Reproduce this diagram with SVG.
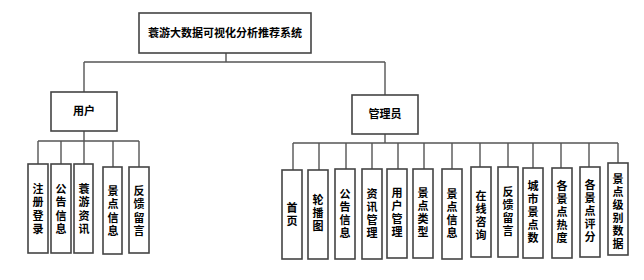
<svg xmlns="http://www.w3.org/2000/svg" width="644" height="280" viewBox="0 0 644 280">
<style>
.box{fill:#fff;stroke:#444;stroke-width:1.6}
.ln{fill:none;stroke:#555;stroke-width:1.4}
.t{font-family:"Noto Sans CJK SC","Noto Sans",sans-serif;font-size:11px;font-weight:bold;fill:#000;text-anchor:middle}
</style>
<rect width="644" height="280" fill="#fff"/>
<g id="connectors" class="ln">
<path d="M226 53V62M84 62H385M84 62V92M385 62V95"/>
<path d="M84 131V141M38 141H139M38 141V164M61 141V164M84 141V164M113 141V167M139 141V167"/>
<path d="M385 134V143M293 143H618M293 143V170M319 143V170M346 143V169M372 143V169M398 143V169M424 143V169M452 143V169M480 143V167M508 143V167M533 143V168M561 143V168M589 143V167M618 143V163"/>
</g>
<g id="root"><rect class="box" x="139" y="13" width="172" height="40"/><text class="t" x="225" y="37">蓑游大数据可视化分析推荐系统</text></g>
<g id="user"><rect class="box" x="51" y="92" width="66" height="39"/><text class="t" x="84" y="115">用户</text></g>
<g id="admin"><rect class="box" x="352" y="95" width="66" height="39"/><text class="t" x="385" y="118">管理员</text></g>
<g id="u1"><rect class="box" x="28" y="164" width="20" height="89"/><text class="t" x="38" y="193"><tspan x="38">注</tspan><tspan x="38" dy="13.3">册</tspan><tspan x="38" dy="13.3">登</tspan><tspan x="38" dy="13.3">录</tspan></text></g>
<g id="u2"><rect class="box" x="51" y="164" width="20" height="89"/><text class="t" x="61" y="193"><tspan x="61">公</tspan><tspan x="61" dy="13.3">告</tspan><tspan x="61" dy="13.3">信</tspan><tspan x="61" dy="13.3">息</tspan></text></g>
<g id="u3"><rect class="box" x="74" y="164" width="19" height="89"/><text class="t" x="84" y="193"><tspan x="84">蓑</tspan><tspan x="84" dy="13.3">游</tspan><tspan x="84" dy="13.3">资</tspan><tspan x="84" dy="13.3">讯</tspan></text></g>
<g id="u4"><rect class="box" x="103" y="167" width="19" height="87"/><text class="t" x="113" y="195"><tspan x="113">景</tspan><tspan x="113" dy="13.3">点</tspan><tspan x="113" dy="13.3">信</tspan><tspan x="113" dy="13.3">息</tspan></text></g>
<g id="u5"><rect class="box" x="129" y="167" width="20" height="86"/><text class="t" x="139" y="195"><tspan x="139">反</tspan><tspan x="139" dy="13.3">馈</tspan><tspan x="139" dy="13.3">留</tspan><tspan x="139" dy="13.3">言</tspan></text></g>
<g id="a1"><rect class="box" x="282" y="170" width="20" height="89"/><text class="t" x="292" y="212"><tspan x="292">首</tspan><tspan x="292" dy="13">页</tspan></text></g>
<g id="a2"><rect class="box" x="308" y="170" width="20" height="89"/><text class="t" x="318" y="204"><tspan x="318">轮</tspan><tspan x="318" dy="13">播</tspan><tspan x="318" dy="13">图</tspan></text></g>
<g id="a3"><rect class="box" x="335" y="169" width="20" height="90"/><text class="t" x="345" y="198"><tspan x="345">公</tspan><tspan x="345" dy="13">告</tspan><tspan x="345" dy="13">信</tspan><tspan x="345" dy="13">息</tspan></text></g>
<g id="a4"><rect class="box" x="362" y="169" width="20" height="90"/><text class="t" x="372" y="198"><tspan x="372">资</tspan><tspan x="372" dy="13">讯</tspan><tspan x="372" dy="13">管</tspan><tspan x="372" dy="13">理</tspan></text></g>
<g id="a5"><rect class="box" x="387" y="169" width="20" height="89"/><text class="t" x="397" y="197"><tspan x="397">用</tspan><tspan x="397" dy="13">户</tspan><tspan x="397" dy="13">管</tspan><tspan x="397" dy="13">理</tspan></text></g>
<g id="a6"><rect class="box" x="413" y="169" width="20" height="89"/><text class="t" x="423" y="197"><tspan x="423">景</tspan><tspan x="423" dy="13">点</tspan><tspan x="423" dy="13">类</tspan><tspan x="423" dy="13">型</tspan></text></g>
<g id="a7"><rect class="box" x="442" y="169" width="20" height="90"/><text class="t" x="452" y="198"><tspan x="452">景</tspan><tspan x="452" dy="13">点</tspan><tspan x="452" dy="13">信</tspan><tspan x="452" dy="13">息</tspan></text></g>
<g id="a8"><rect class="box" x="471" y="167" width="20" height="90"/><text class="t" x="481" y="200"><tspan x="481">在</tspan><tspan x="481" dy="13">线</tspan><tspan x="481" dy="13">咨</tspan><tspan x="481" dy="13">询</tspan></text></g>
<g id="a9"><rect class="box" x="498" y="167" width="20" height="90"/><text class="t" x="508" y="196"><tspan x="508">反</tspan><tspan x="508" dy="13">馈</tspan><tspan x="508" dy="13">留</tspan><tspan x="508" dy="13">言</tspan></text></g>
<g id="a10"><rect class="box" x="523" y="168" width="20" height="90"/><text class="t" x="533" y="190"><tspan x="533">城</tspan><tspan x="533" dy="13">市</tspan><tspan x="533" dy="13">景</tspan><tspan x="533" dy="13">点</tspan><tspan x="533" dy="13">数</tspan></text></g>
<g id="a11"><rect class="box" x="552" y="168" width="20" height="90"/><text class="t" x="562" y="190"><tspan x="562">各</tspan><tspan x="562" dy="13">景</tspan><tspan x="562" dy="13">点</tspan><tspan x="562" dy="13">热</tspan><tspan x="562" dy="13">度</tspan></text></g>
<g id="a12"><rect class="box" x="580" y="167" width="20" height="90"/><text class="t" x="590" y="189"><tspan x="590">各</tspan><tspan x="590" dy="13">景</tspan><tspan x="590" dy="13">点</tspan><tspan x="590" dy="13">评</tspan><tspan x="590" dy="13">分</tspan></text></g>
<g id="a13"><rect class="box" x="608" y="163" width="20" height="92"/><text class="t" x="618" y="183"><tspan x="618">景</tspan><tspan x="618" dy="13">点</tspan><tspan x="618" dy="13">级</tspan><tspan x="618" dy="13">别</tspan><tspan x="618" dy="13">数</tspan><tspan x="618" dy="13">据</tspan></text></g>
</svg>
